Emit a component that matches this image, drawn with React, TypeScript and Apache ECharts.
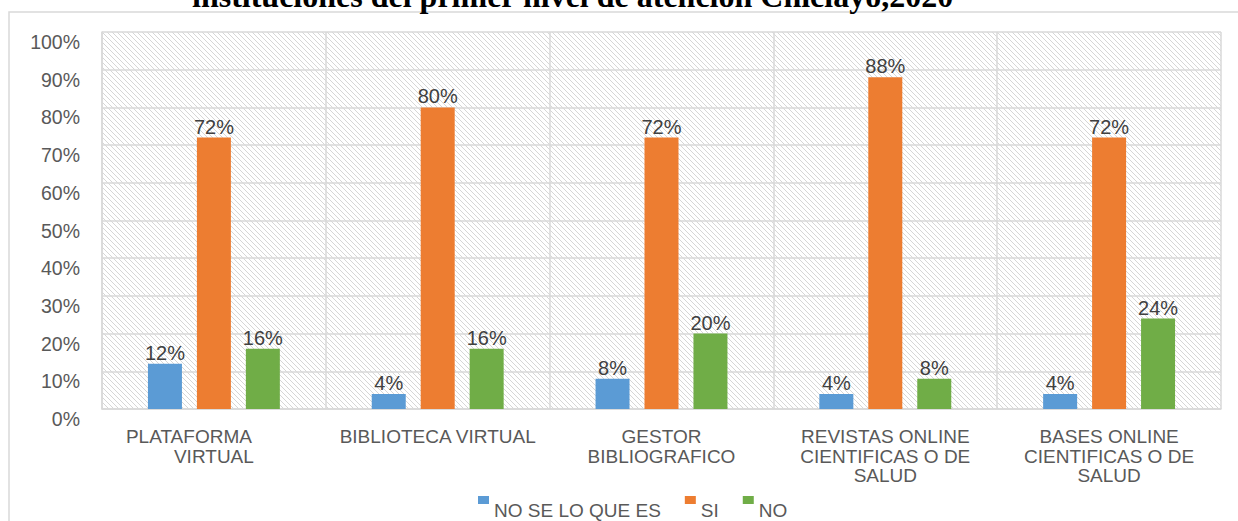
import React, { useEffect, useRef } from "react";
import * as echarts from "echarts";

const categories = [
  "PLATAFORMA VIRTUAL",
  "BIBLIOTECA VIRTUAL",
  "GESTOR BIBLIOGRAFICO",
  "REVISTAS ONLINE CIENTIFICAS O DE SALUD",
  "BASES ONLINE CIENTIFICAS O DE SALUD",
];
const categoryLines = [
  ["PLATAFORMA", "VIRTUAL"],
  ["BIBLIOTECA VIRTUAL"],
  ["GESTOR", "BIBLIOGRAFICO"],
  ["REVISTAS ONLINE", "CIENTIFICAS O DE", "SALUD"],
  ["BASES ONLINE", "CIENTIFICAS O DE", "SALUD"],
];
const seriesNames = ["NO SE LO QUE ES", "SI", "NO"];
const noSeLoQueEs = [12, 4, 8, 4, 4];
const si = [72, 80, 72, 88, 72];
const no = [16, 16, 20, 8, 24];
const seriesValues = [noSeLoQueEs, si, no];
const seriesColors = ["#5B9BD5", "#ED7D31", "#70AD47"];
const yMin = 0;
const yMax = 100;
const yInterval = 10;
const titleText = "instituciones del primer nivel de atención Chiclayo,2020";

function makeHatch() {
  const size = 5;
  const c = document.createElement("canvas");
  c.width = size;
  c.height = size;
  const ctx = c.getContext("2d");
  if (ctx) {
    ctx.fillStyle = "#ffffff";
    ctx.fillRect(0, 0, size, size);
    ctx.strokeStyle = "#d6d6d6";
    ctx.lineWidth = 1;
    for (let k = -1; k <= 1; k++) {
      ctx.beginPath();
      ctx.moveTo(-1, -1 + k * size);
      ctx.lineTo(size + 1, size + 1 + k * size);
      ctx.stroke();
    }
  }
  return { image: c, repeat: "repeat", imageWidth: size, imageHeight: size };
}

export default function App() {
  const ref = useRef<HTMLDivElement>(null);
  useEffect(() => {
    if (!ref.current) return;
    const chart = echarts.init(ref.current, null, { renderer: "svg" });
    const font = "Liberation Sans";
    const option: any = {
      animation: false,
      backgroundColor: "#ffffff",
      graphic: [
        {
          type: "rect",
          z: -10,
          shape: { x: 9, y: 12, width: 1260, height: 540 },
          style: { fill: "none", stroke: "#d9d9d9", lineWidth: 1.5 },
          silent: true,
        },
        {
          type: "text",
          left: 192,
          top: -20,
          style: {
            text: titleText,
            fontFamily: "Liberation Serif",
            fontWeight: "bold",
            fontSize: 32,
            fill: "#000000",
          },
        },
      ],
      grid: {
        left: 102,
        top: 32,
        right: 17,
        bottom: 112,
        show: true,
        backgroundColor: makeHatch(),
        borderWidth: 0,
      },
      legend: {
        data: seriesNames,
        left: 473,
        top: 491,
        itemWidth: 11,
        itemHeight: 28,
        itemGap: 24,
        icon: "path://M0,0h11v8h-11zM0,28h11",
        textStyle: {
          fontFamily: font,
          fontSize: 19,
          color: "#595959",
        },
      },
      xAxis: {
        type: "category",
        data: categories,
        axisLine: { show: true, lineStyle: { color: "#d9d9d9", width: 1.5 } },
        axisTick: { show: false },
        splitLine: { show: true, interval: 0, lineStyle: { color: "#d9d9d9", width: 1.5 } },
        axisLabel: {
          interval: 0,
          margin: 18,
          formatter: (_v: string, idx: number) => {
            const lines = categoryLines[idx];
            return lines
              .map((l, i) => (idx === 0 && i === 0 ? `{a|${l}}` : `{b|${l}}`))
              .join("\n");
          },
          rich: {
            a: {
              fontFamily: font,
              fontSize: 19,
              lineHeight: 19.5,
              color: "#595959",
              padding: [0, 50, 0, 0],
            },
            b: {
              fontFamily: font,
              fontSize: 19,
              lineHeight: 19.5,
              color: "#595959",
            },
          },
        },
      },
      yAxis: {
        type: "value",
        min: yMin,
        max: yMax,
        interval: yInterval,
        axisLine: { show: true, lineStyle: { color: "#d9d9d9", width: 1.5 } },
        axisTick: { show: false },
        splitLine: { show: true, lineStyle: { color: "#d9d9d9", width: 1.5 } },
        axisLabel: {
          formatter: "{value}%",
          fontFamily: font,
          fontSize: 19.5,
          color: "#595959",
          margin: 22,
          verticalAlign: "top",
        },
      },
      series: seriesNames.map((name, i) => ({
        name,
        type: "bar",
        data: seriesValues[i],
        barWidth: 34,
        barGap: "44%",
        itemStyle: { color: seriesColors[i] },
        label: {
          show: true,
          position: "top",
          distance: 1,
          formatter: "{c}%",
          fontFamily: font,
          fontSize: 20,
          color: "#404040",
        },
      })),
    };
    chart.setOption(option);
    return () => chart.dispose();
  }, []);
  return (
    <div
      ref={ref}
      style={{ position: "absolute", left: 0, top: 0, width: 1238, height: 521 }}
    />
  );
}
